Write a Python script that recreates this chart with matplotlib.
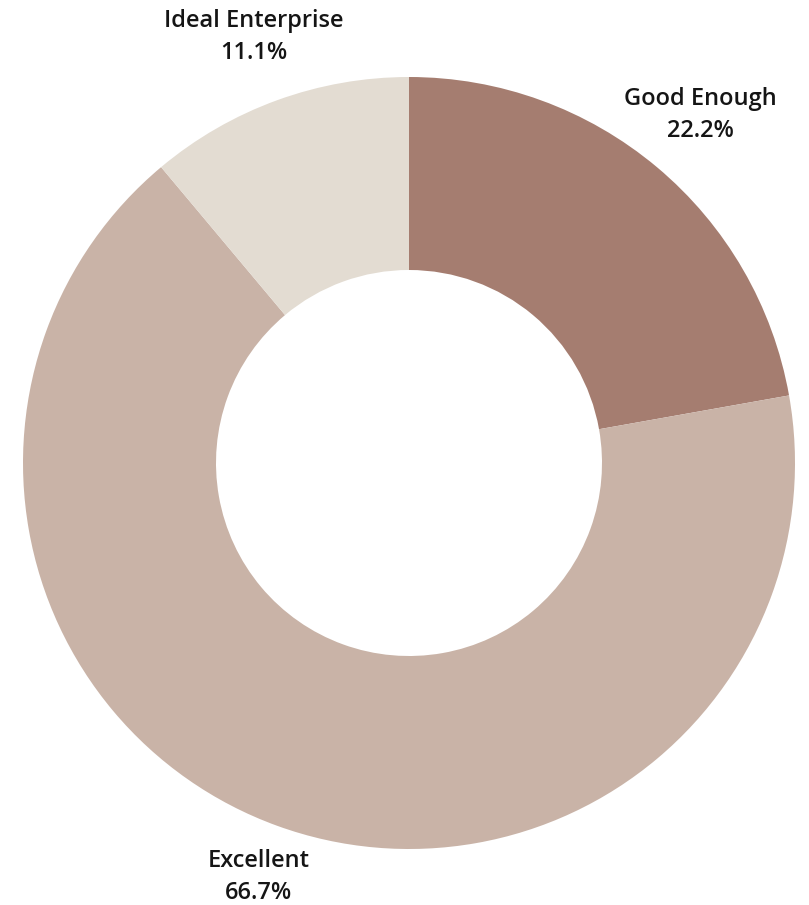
import numpy as np
import matplotlib.pyplot as plt

labels = ['Good Enough', 'Excellent', 'Ideal Enterprise']
shares = [22.2, 66.7, 11.1]
colors = ['#a57d70', '#c9b3a7', '#e3dcd2']

fig = plt.figure(figsize=(8.09, 9.05), dpi=100)
ax = fig.add_axes([0, 0, 1, 1])

wedges, _ = ax.pie(shares, colors=colors, startangle=90, counterclock=False,
                   radius=1.0, wedgeprops=dict(width=0.5, linewidth=0))

# donut centre sits at pixel (409, 463) with an outer radius of 386 px
r_px = 386.0
cx, cy = 409.0, 463.0
ax.set_aspect('auto')
ax.set_xlim(-cx / r_px, (809 - cx) / r_px)
ax.set_ylim(-(905 - cy) / r_px, cy / r_px)
ax.axis('off')

total = sum(shares)
angle = 90.0
for name, val in zip(labels, shares):
    mid = angle - val / total * 360 / 2
    angle -= val / total * 360
    dist = 1.175 if np.sin(np.radians(mid)) > 0 else 1.14
    x = dist * np.cos(np.radians(mid))
    y = dist * np.sin(np.radians(mid))
    ax.text(x, y, f'{name}\n{val:.1f}%', ha='center', va='center',
            fontsize=17, fontweight='semibold', family='Open Sans',
            color='#151515', linespacing=1.45)

fig.savefig('out.png', dpi=100)
